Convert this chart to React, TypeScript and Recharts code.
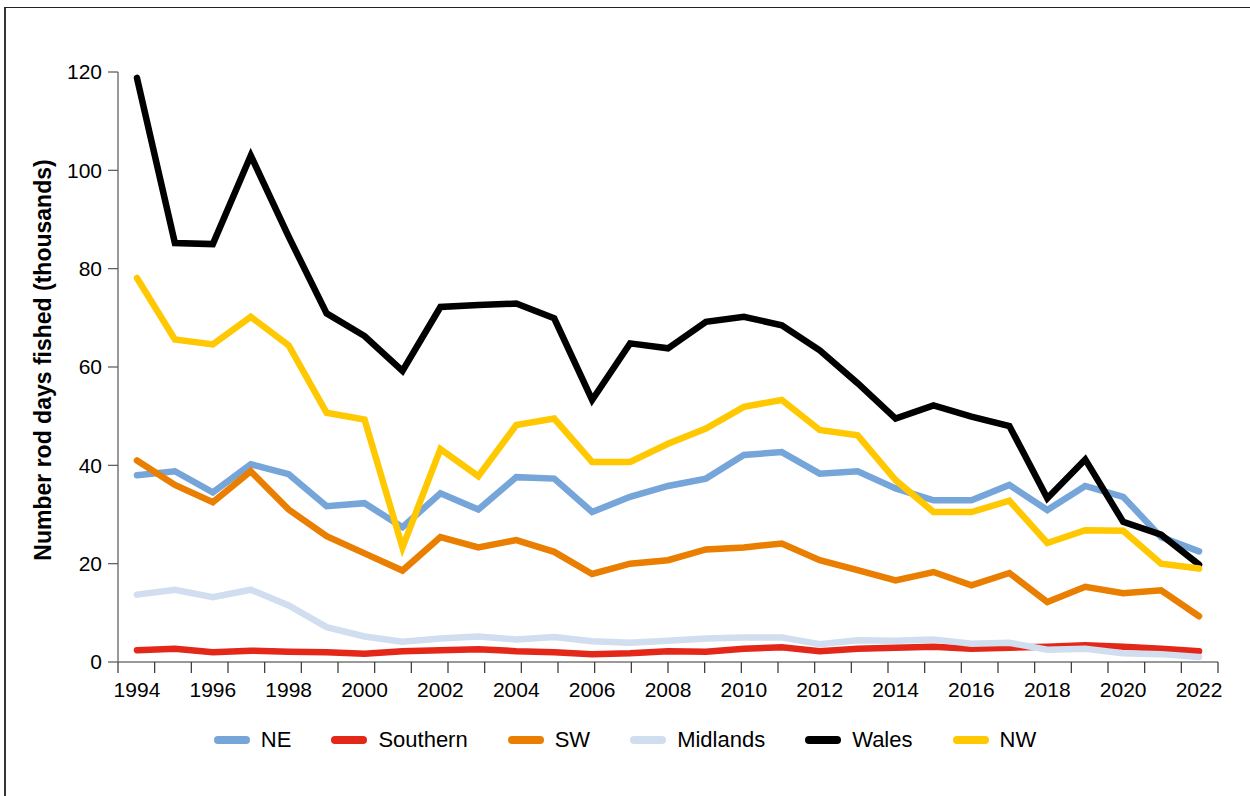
import React from 'react';
import { LineChart, Line, XAxis, YAxis, Legend } from 'recharts';

const years = [1994, 1995, 1996, 1997, 1998, 1999, 2000, 2001, 2002, 2003, 2004, 2005, 2006, 2007, 2008, 2009, 2010, 2011, 2012, 2013, 2014, 2015, 2016, 2017, 2018, 2019, 2020, 2021, 2022];
const ne = [38.0, 38.8, 34.5, 40.2, 38.2, 31.7, 32.3, 27.4, 34.3, 31.0, 37.6, 37.3, 30.5, 33.6, 35.8, 37.3, 42.1, 42.7, 38.3, 38.8, 35.3, 32.9, 32.9, 36.0, 30.9, 35.8, 33.6, 25.4, 22.5];
const southern = [2.4, 2.7, 2.0, 2.3, 2.1, 2.0, 1.7, 2.2, 2.4, 2.6, 2.2, 2.0, 1.6, 1.8, 2.2, 2.1, 2.7, 3.0, 2.2, 2.7, 2.9, 3.1, 2.7, 2.9, 3.1, 3.4, 3.1, 2.7, 2.2];
const sw = [41.0, 36.0, 32.5, 38.8, 31.0, 25.6, 22.1, 18.6, 25.4, 23.3, 24.8, 22.4, 17.9, 20.0, 20.7, 22.9, 23.3, 24.1, 20.7, 18.7, 16.6, 18.3, 15.6, 18.1, 12.2, 15.3, 14.0, 14.6, 9.3];
const midlands = [13.7, 14.7, 13.2, 14.7, 11.5, 7.1, 5.2, 4.1, 4.8, 5.2, 4.6, 5.1, 4.2, 3.9, 4.3, 4.8, 5.0, 5.0, 3.6, 4.4, 4.3, 4.6, 3.7, 3.9, 2.5, 2.7, 1.8, 1.6, 1.0];
const wales = [118.8, 85.2, 85.0, 103.0, 86.5, 70.9, 66.3, 59.2, 72.2, 72.6, 72.9, 69.9, 53.3, 64.8, 63.8, 69.2, 70.2, 68.5, 63.4, 56.7, 49.5, 52.2, 49.9, 48.0, 33.3, 41.2, 28.5, 25.9, 19.8];
const nw = [78.1, 65.6, 64.6, 70.2, 64.4, 50.7, 49.3, 23.3, 43.3, 37.8, 48.2, 49.5, 40.7, 40.7, 44.4, 47.5, 51.9, 53.3, 47.2, 46.1, 37.0, 30.5, 30.5, 32.8, 24.2, 26.8, 26.7, 20.0, 19.0];

const yearTicks = [1994, 1996, 1998, 2000, 2002, 2004, 2006, 2008, 2010, 2012, 2014, 2016, 2018, 2020, 2022];
const yTicks = [0, 20, 40, 60, 80, 100, 120];
const minorTicks = [0, 1, 2, 3, 4, 5, 6, 7, 8, 9, 10, 11, 12, 13, 14, 15, 16, 17, 18, 19, 20, 21, 22, 23, 24, 25, 26, 27, 28, 29, 30];

const series = [
  { key: 'NE', values: ne, color: '#76A5D9' },
  { key: 'Southern', values: southern, color: '#E3281A' },
  { key: 'SW', values: sw, color: '#E97E00' },
  { key: 'Midlands', values: midlands, color: '#D1DEEF' },
  { key: 'Wales', values: wales, color: '#000000' },
  { key: 'NW', values: nw, color: '#FFC800' },
];

const data = years.map((year, i) => {
  const row: Record<string, number> = { year, minor: 0 };
  series.forEach((s) => {
    row[s.key] = s.values[i];
  });
  return row;
});

const FONT = '"Liberation Sans", Arial, sans-serif';

const renderLegend = (props: any) => {
  const payload = [...(props.payload || [])].sort(
    (a: any, b: any) => series.findIndex((s) => s.key === a.value) - series.findIndex((s) => s.key === b.value)
  );
  return (
    <div style={{ display: 'flex', justifyContent: 'center', alignItems: 'center', width: '100%', height: 30, fontFamily: FONT, fontSize: 22, color: '#000' }}>
      {payload.map((p: any, i: number) => (
        <div key={p.value} style={{ display: 'flex', alignItems: 'center', marginLeft: i === 0 ? 0 : 40 }}>
          <svg width={36} height={12} style={{ display: 'block' }}>
            <line x1={4} y1={6} x2={32} y2={6} stroke={p.color} strokeWidth={8} strokeLinecap="round" />
          </svg>
          <span style={{ marginLeft: 11, lineHeight: '30px' }}>{p.value}</span>
        </div>
      ))}
    </div>
  );
};

const YLabel = () => (
  <text
    x={43}
    y={360}
    transform="rotate(-90 43 360)"
    textAnchor="middle"
    dominantBaseline="central"
    style={{ fontFamily: FONT, fontSize: 23, fontWeight: 700, fill: '#000' }}
  >
    Number rod days fished (thousands)
  </text>
);

const EmptyTick = () => <g />;

export default function App() {
  return (
    <div style={{ position: 'absolute', left: 0, top: 0, width: 1250, height: 796, background: '#fff', overflow: 'hidden' }}>
      <div style={{ position: 'absolute', left: 4, top: 7, width: 1300, height: 900, borderTop: '1.5px solid #222', borderLeft: '2px solid #333' }} />
      <div style={{ position: 'absolute', left: 0, top: 0 }}>
        <LineChart width={1250} height={796} data={data} margin={{ top: 72, right: 32, left: 0, bottom: 54 }}>
          <XAxis
            xAxisId={0}
            dataKey="minor"
            type="number"
            domain={[0, 30]}
            allowDataOverflow
            ticks={minorTicks}
            interval={0}
            height={1}
            tickSize={11}
            tick={EmptyTick}
            axisLine={{ stroke: '#777', strokeWidth: 1.5 }}
            tickLine={{ stroke: '#333', strokeWidth: 1.2 }}
          />
          <XAxis
            xAxisId="yr"
            dataKey="year"
            type="number"
            domain={[1993.5, 2022.5]}
            ticks={yearTicks}
            interval={0}
            height={49}
            axisLine={false}
            tickLine={false}
            tickSize={10}
            tickMargin={9}
            tick={{ fill: '#000', fontSize: 21, fontFamily: FONT }}
          />
          <YAxis
            domain={[0, 120]}
            ticks={yTicks}
            interval={0}
            width={118}
            tickSize={10}
            tickMargin={6}
            axisLine={{ stroke: '#777', strokeWidth: 1.5 }}
            tickLine={{ stroke: '#555', strokeWidth: 1.2 }}
            tick={{ fill: '#000', fontSize: 21, fontFamily: FONT }}
            label={YLabel}
          />
          <Legend
            verticalAlign="bottom"
            content={renderLegend}
            wrapperStyle={{ left: 0, width: 1250, top: 725, height: 30 }}
          />
          {series.map((s) => (
            <Line
              key={s.key}
              xAxisId="yr"
              dataKey={s.key}
              name={s.key}
              stroke={s.color}
              strokeWidth={6.5}
              dot={false}
              activeDot={false}
              strokeLinecap="round"
              strokeLinejoin="miter"
              isAnimationActive={false}
            />
          ))}
        </LineChart>
      </div>
    </div>
  );
}
